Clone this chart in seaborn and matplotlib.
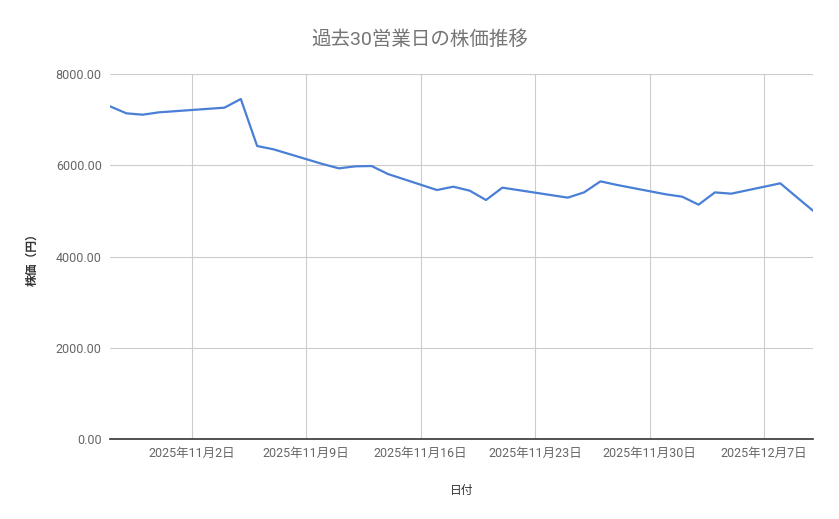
import matplotlib
matplotlib.use("Agg")
import matplotlib.pyplot as plt
import seaborn as sns
import pandas as pd
import numpy as np

dates = ["2025-10-28", "2025-10-29", "2025-10-30", "2025-10-31",
         "2025-11-04", "2025-11-05", "2025-11-06", "2025-11-07",
         "2025-11-10", "2025-11-11", "2025-11-12", "2025-11-13", "2025-11-14",
         "2025-11-17", "2025-11-18", "2025-11-19", "2025-11-20", "2025-11-21",
         "2025-11-25", "2025-11-26", "2025-11-27", "2025-11-28",
         "2025-12-01", "2025-12-02", "2025-12-03", "2025-12-04", "2025-12-05",
         "2025-12-08", "2025-12-09", "2025-12-10"]
prices = [7292, 7138, 7108, 7160,
          7262, 7452, 6422, 6349,
          6027, 5932, 5976, 5983, 5808,
          5457, 5530, 5443, 5238, 5509,
          5290, 5406, 5647, 5569,
          5363, 5311, 5136, 5405, 5377,
          5604, 5302, 5004]
tick_dates = ["2025-11-02", "2025-11-09", "2025-11-16", "2025-11-23", "2025-11-30", "2025-12-07"]
tick_labels = ["2025年11月2日", "2025年11月9日", "2025年11月16日", "2025年11月23日",
               "2025年11月30日", "2025年12月7日"]
y_ticks = [0, 2000, 4000, 6000, 8000]

title = "過去30営業日の株価推移"
x_label = "日付"
y_label = "株価（円）"

sns.set_theme(style="white")
fam = ["Roboto", "Noto Sans CJK JP", "DejaVu Sans"]
plt.rcParams["font.family"] = fam

df = pd.DataFrame({"date": pd.to_datetime(dates), "price": prices})

fig = plt.figure(figsize=(8.39, 5.19), dpi=100)
ax = fig.add_axes([110/839, 1-439/519, (813-110)/839, (439-74)/519])

sns.lineplot(data=df, x="date", y="price", ax=ax, color="#4a7fd6", linewidth=1.6)

ax.set_xlim(pd.Timestamp("2025-10-28"), pd.Timestamp("2025-12-10"))
ax.set_ylim(0, 8000)
ax.set_xticks(pd.to_datetime(tick_dates))
ax.set_xticklabels(tick_labels)
ax.set_yticks(y_ticks)
ax.set_yticklabels([f"{v:.2f}" for v in y_ticks])
ax.grid(True, color="#cccccc", linewidth=0.8)
ax.set_axisbelow(True)
for s in ["top", "right", "left"]:
    ax.spines[s].set_visible(False)
ax.spines["bottom"].set_color("#333333")
ax.spines["bottom"].set_linewidth(1.2)
ax.spines["bottom"].set_zorder(5)
ax.tick_params(axis="both", length=0, labelsize=9, labelcolor="#666666")
ax.tick_params(axis="y", pad=6)
ax.tick_params(axis="x", pad=6)

ax.set_xlabel(x_label, fontsize=8.5, color="#333333", labelpad=17)
ax.set_ylabel(y_label, fontsize=8.5, color="#333333", labelpad=12, fontweight="bold")
fig.suptitle(title, y=1-40/519, va="center", fontsize=14, color="#757575")

fig.savefig("out.png", dpi=100, facecolor="white")
